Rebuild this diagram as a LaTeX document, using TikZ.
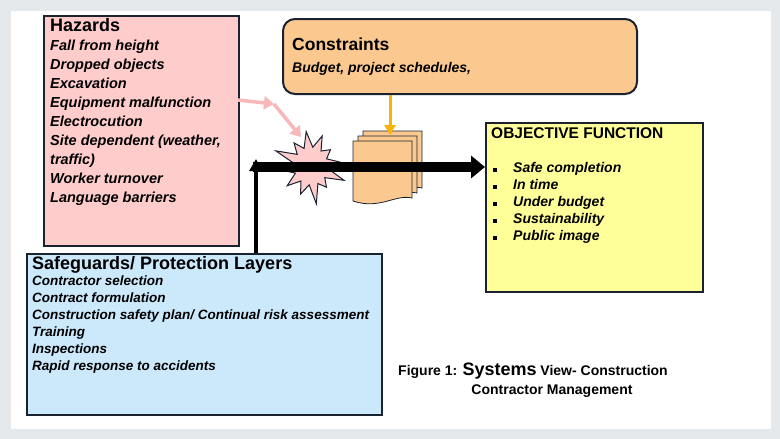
\documentclass[tikz,border=0pt]{standalone}
\usepackage{fontspec}
\setmainfont{Liberation Sans}
\usetikzlibrary{shapes.misc,shapes.symbols,arrows.meta}
\definecolor{bgray}{HTML}{E6E9EC}
\definecolor{hazpink}{HTML}{FFCCCC}
\definecolor{conorange}{HTML}{FBC98F}
\definecolor{objyellow}{HTML}{FFFF99}
\definecolor{safeblue}{HTML}{CCE8FB}
\definecolor{boxline}{HTML}{1A2230}
\definecolor{arrpink}{HTML}{F8B8B8}
\definecolor{arrorange}{HTML}{F7B500}
\tikzset{
  boxstyle/.style={draw=boxline,line width=2pt},
  itemtext/.style={anchor=north west,align=left,font=\bfseries\itshape\fontsize{14.5}{19}\selectfont,inner sep=0pt},
  titletext/.style={anchor=north west,font=\bfseries\fontsize{18}{20}\selectfont,inner sep=0pt},
}
\begin{document}
\begin{tikzpicture}[x=1pt,y=-1pt]
\fill[bgray] (0,0) rectangle (780,439);
\fill[white] (11,11) rectangle (771,429);
\useasboundingbox (0,0) rectangle (780,439);
% hazards
\node[boxstyle,fill=hazpink,minimum width=195pt,minimum height=230pt,anchor=north west] (haz) at (43,15) {};
\node[titletext] (hazt) at (50,18) {Hazards};
\node[itemtext] (hazi) at (50,40) {Fall from height\\Dropped objects\\Excavation\\Equipment malfunction\\Electrocution\\Site dependent (weather,\\traffic)\\Worker turnover\\Language barriers};
% constraints
\node[boxstyle,fill=conorange,rounded corners=12pt,minimum width=354pt,minimum height=75pt,anchor=north west] (con) at (282,18) {};
\node[titletext,font=\bfseries\fontsize{17.5}{20}\selectfont] (cont) at (292,38) {Constraints};
\node[itemtext,font=\bfseries\itshape\fontsize{14}{16}\selectfont] (coni) at (292,62) {Budget, project schedules,};
% objective
\node[boxstyle,fill=objyellow,minimum width=217pt,minimum height=169pt,anchor=north west] (obj) at (485,122) {};
\node[titletext,font=\bfseries\fontsize{15.5}{17}\selectfont] (objt) at (491,127) {OBJECTIVE FUNCTION};
\node[itemtext,font=\bfseries\itshape\fontsize{14}{17}\selectfont] (obji) at (513,162) {Safe completion\\In time\\Under budget\\Sustainability\\Public image};
\foreach \i in {0,...,4} \fill (493,{168+17*\i}) rectangle ++(4,4);
% safeguards
\node[boxstyle,fill=safeblue,minimum width=355pt,minimum height=161pt,anchor=north west] (saf) at (26,253) {};
\node[titletext] (saft) at (32,256) {Safeguards/ Protection Layers};
\node[itemtext,font=\bfseries\itshape\fontsize{13.5}{17}\selectfont] (safi) at (32,276) {Contractor selection\\Contract formulation\\Construction safety plan/ Continual risk assessment\\Training\\Inspections\\Rapid response to accidents};
% explosion
\node[starburst,starburst points=12,starburst point height=22pt,draw=boxline,line width=1pt,fill=hazpink,minimum width=78pt,minimum height=82pt,rotate=8] (boom) at (311,166) {};
% documents
\foreach \dx in {10,5,0}{
  \draw[fill=conorange,draw=boxline,line width=0.8pt] (353+\dx,141-\dx) -- (412+\dx,141-\dx) -- (412+\dx,198-\dx) .. controls (395+\dx,194-\dx) and (380+\dx,210-\dx) .. (353+\dx,201-\dx) -- cycle;
}
\coordinate (docs) at (390,135);
% arrows
\coordinate (pa) at (238,100);
\coordinate (pb) at (274,104);
\coordinate (pc) at (301,137);
\draw[arrpink,line width=3.5pt,-{Triangle[length=10pt,width=13pt]}] (pa) -- (pb);
\draw[arrpink,line width=3.5pt,-{Triangle[length=10pt,width=13pt]}] (pb) -- (pc);
\draw[arrorange,line width=3pt,-{Triangle[length=10pt,width=11pt]}] (con.south -| docs) -- (docs);
\coordinate (ms) at (253,167);
\draw[black,line width=10pt,-{Triangle[length=14pt,width=22pt]}] (ms) -- (ms -| obj.west);
\coordinate (vt) at (256,159);
\draw[black,line width=4pt,-{Triangle[length=12pt,width=13pt]}] (saf.north -| vt) -- (vt);
% caption
\node[anchor=base,font=\bfseries\fontsize{14}{16}\selectfont,inner sep=0pt] (cap1) at (533,375) {Figure 1: {\fontsize{18}{18}\selectfont Systems} View- Construction};
\node[anchor=base,font=\bfseries\fontsize{14}{16}\selectfont,inner sep=0pt] (cap2) at (552,394) {Contractor Management};
\end{tikzpicture}
\end{document}
